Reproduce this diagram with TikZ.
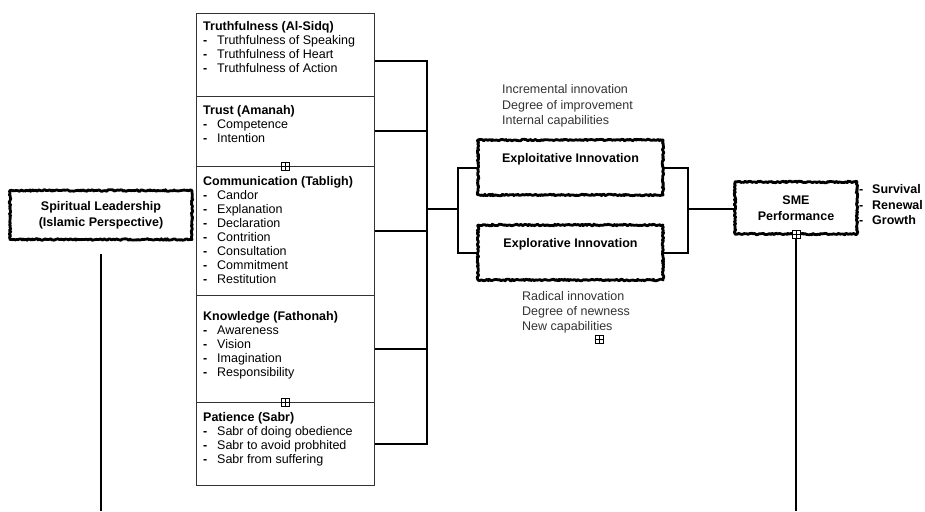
\documentclass[tikz,border=0pt]{standalone}
\usepackage{fontspec}
\setmainfont{Liberation Sans}
\usetikzlibrary{decorations.pathmorphing}

\newcommand{\litem}[1]{\makebox[14pt][l]{\textbf{-}}#1}

\begin{document}
\begin{tikzpicture}[x=1pt,y=-1pt,
              every node/.style={font=\fontsize{12.5}{14}\selectfont, inner sep=0pt},
              rough/.style={draw, line width=2.8pt, line join=round, decorate,
                decoration={random steps,segment length=1.3pt,amplitude=0.8pt},
                font=\fontsize{12.5}{16}\selectfont\bfseries, align=center},
              innov/.style={rough, minimum width=185pt, text height=22.5pt, text depth=32.5pt},
              attr/.style={draw=black!80, line width=0.9pt, minimum width=178pt, anchor=north west},
              attrtext/.style={anchor=north west, align=left},
              note/.style={anchor=north west, align=left, text=black!80,
                font=\fontsize{12.5}{15.5}\selectfont},
              conn/.style={line width=2pt},
              plusbox/.style={draw, fill=white, line width=0.6pt, minimum size=8pt,
                path picture={\draw[line width=0.5pt]
                  (path picture bounding box.north) -- (path picture bounding box.south)
                  (path picture bounding box.west) -- (path picture bounding box.east);}}
            ]
              \useasboundingbox (0,0) rectangle (925,511);

              % left construct
              \node[rough, minimum width=182pt, minimum height=49pt] (spirit) at (101,215)
                {Spiritual Leadership\\(Islamic Perspective)};

              % the five attributes
              \node[attr, minimum height=83pt] (sidq) at (196,13) {};
              \node[attr, minimum height=70pt] (amanah) at (196,96) {};
              \node[attr, minimum height=129pt] (tabligh) at (196,166) {};
              \node[attr, minimum height=107pt] (fathonah) at (196,295) {};
              \node[attr, minimum height=83pt] (sabr) at (196,402) {};

              \node[attrtext] (sidqtxt) at (203,21.5) {\textbf{Truthfulness (Al-Sidq)}\\
                \litem{Truthfulness of Speaking}\\ \litem{Truthfulness of Heart}\\
                \litem{Truthfulness of Action}};
              \node[attrtext] (amanahtxt) at (203,105.5) {\textbf{Trust (Amanah)}\\
                \litem{Competence}\\ \litem{Intention}};
              \node[attrtext] (tablightxt) at (203,176.5) {\textbf{Communication (Tabligh)}\\
                \litem{Candor}\\ \litem{Explanation}\\ \litem{Declaration}\\
                \litem{Contrition}\\ \litem{Consultation}\\ \litem{Commitment}\\
                \litem{Restitution}};
              \node[attrtext] (fathonahtxt) at (203,311.5) {\textbf{Knowledge (Fathonah)}\\
                \litem{Awareness}\\ \litem{Vision}\\ \litem{Imagination}\\
                \litem{Responsibility}};
              \node[attrtext] (sabrtxt) at (203,412.5) {\textbf{Patience (Sabr)}\\
                \litem{Sabr of doing obedience}\\ \litem{Sabr to avoid probhited}\\
                \litem{Sabr from suffering}};

              \node[plusbox] (plusa) at (285,166) {};
              \node[plusbox] (plusb) at (285,402) {};

              % innovation
              \node[innov] (exploit) at (570.5,167.5) {Exploitative Innovation};
              \node[innov] (explore) at (570.5,252.5) {Explorative Innovation};
              \node[note] (exploitnote) at (502,84.5)
                {Incremental innovation\\Degree of improvement\\Internal capabilities};
              \node[note, font=\fontsize{12.5}{15}\selectfont] (explorenote) at (522,291.5)
                {Radical innovation\\Degree of newness\\New capabilities};
              \node[plusbox] (plusc) at (599,339) {};

              % outcome
              \node[rough, minimum width=122pt, minimum height=52pt] (sme) at (796,208)
                {SME\\Performance};
              \node[anchor=west, align=left, font=\fontsize{12.5}{15.5}\selectfont\bfseries]
                (smetxt) at (859,205)
                {\makebox[13pt][l]{-}Survival\\ \makebox[13pt][l]{-}Renewal\\
                 \makebox[13pt][l]{-}Growth};
              \node[plusbox] (plusd) at (796,234) {};

              \coordinate (bus) at (427,209);
              \coordinate (fork) at (458,209);
              \coordinate (join) at (688,209);
              \coordinate (spiritend) at (101,511);
              \coordinate (smeend) at (796,511);

              % connectors
              \draw[conn] ([yshift=-6pt]sidq.east) -| (bus);
              \draw[conn] (amanah.east) -| (bus);
              \draw[conn] (tabligh.east) -| (bus);
              \draw[conn] (fathonah.east) -| (bus);
              \draw[conn] (sabr.east) -| (bus);
              \draw[conn] (bus) -- (fork);
              \draw[conn] (fork) |- (exploit.west);
              \draw[conn] (fork) |- (explore.west);
              \draw[conn] (exploit.east) -| (join);
              \draw[conn] (explore.east) -| (join);
              \draw[conn] (join) -- (join -| sme.west);
              \draw[conn] ([yshift=-13pt]spirit.south) -- (spiritend);
              \draw[conn] (plusd.south) -- (smeend);
            \end{tikzpicture}
\end{document}
